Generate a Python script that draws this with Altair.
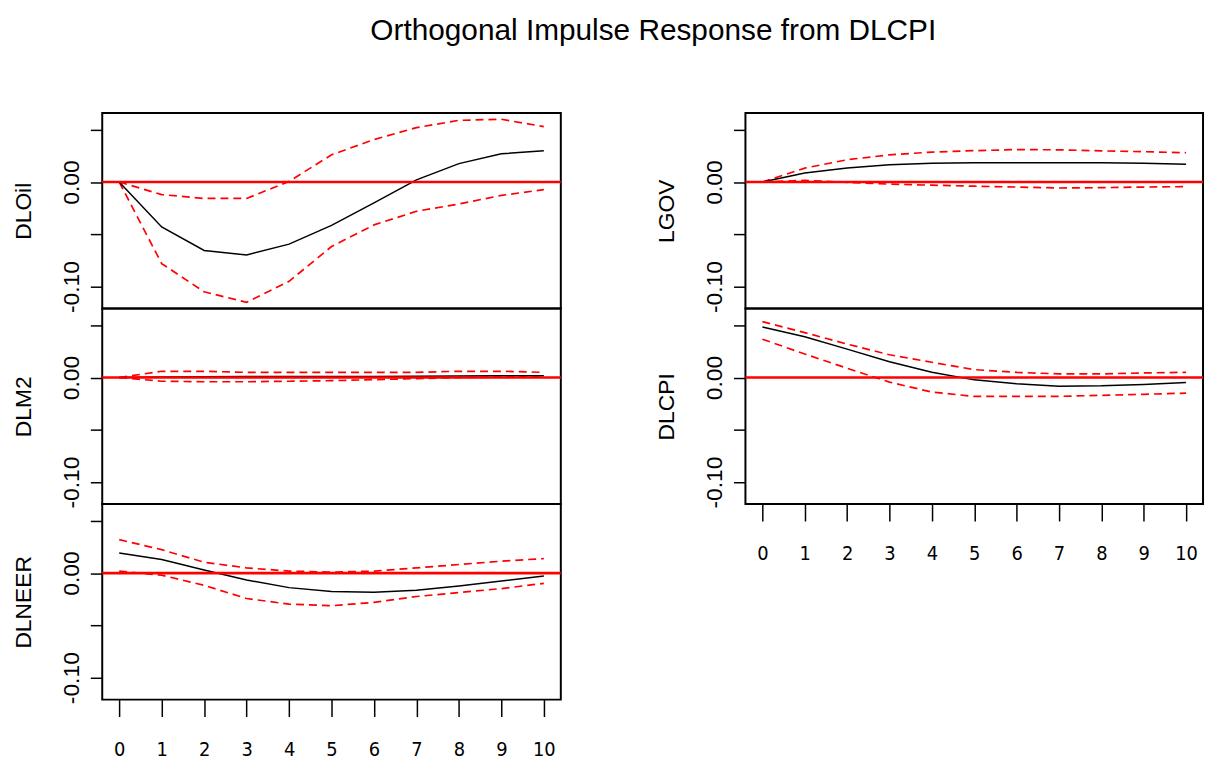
import altair as alt
import pandas as pd

steps = list(range(11))

dloil_irf = [0, -0.043, -0.0655, -0.0697, -0.0594, -0.0415, -0.020, 0.002, 0.0176, 0.027, 0.030]
dloil_lo = [0, -0.078, -0.105, -0.115, -0.095, -0.0617, -0.041, -0.028, -0.021, -0.0128, -0.0073]
dloil_hi = [0, -0.012, -0.0157, -0.0157, 0.0006, 0.026, 0.0406, 0.052, 0.059, 0.060, 0.053]

dlm2_irf = [0, 0.0005, 0.0008, 0.001, 0.001, 0.001, 0.001, 0.0012, 0.0015, 0.0018, 0.0018]
dlm2_lo = [0, -0.0035, -0.004, -0.004, -0.0035, -0.003, -0.002, -0.001, 0.0, 0.0005, 0.001]
dlm2_hi = [0, 0.006, 0.006, 0.005, 0.005, 0.005, 0.005, 0.005, 0.006, 0.006, 0.005]

dlneer_irf = [0.0192, 0.013, 0.003, -0.0066, -0.0139, -0.0177, -0.0183, -0.0164, -0.0123, -0.0076, -0.0028]
dlneer_lo = [0.0019, -0.002, -0.0117, -0.0243, -0.0297, -0.0312, -0.028, -0.0224, -0.0186, -0.0148, -0.0098]
dlneer_hi = [0.032, 0.0224, 0.0104, 0.005, 0.0019, 0.001, 0.0019, 0.005, 0.0082, 0.0114, 0.0139]

lgov_irf = [0, 0.0086, 0.0133, 0.0165, 0.018, 0.0184, 0.0184, 0.0184, 0.0184, 0.018, 0.017]
lgov_lo = [0, 0.0016, -0.0003, -0.002, -0.003, -0.004, -0.0048, -0.0057, -0.0054, -0.0048, -0.0044]
lgov_hi = [0, 0.0133, 0.0213, 0.026, 0.0286, 0.030, 0.031, 0.0308, 0.0298, 0.029, 0.028]

dlcpi_irf = [0.0484, 0.039, 0.0272, 0.0152, 0.005, -0.0022, -0.006, -0.0082, -0.0079, -0.0066, -0.0047]
dlcpi_lo = [0.0367, 0.0225, 0.0089, -0.0044, -0.0139, -0.018, -0.018, -0.018, -0.017, -0.016, -0.0149]
dlcpi_hi = [0.0535, 0.043, 0.032, 0.0218, 0.0146, 0.0076, 0.005, 0.0035, 0.0035, 0.0044, 0.005]

y_ticks = [-0.10, -0.05, 0.0, 0.05]
x_ticks = steps

Y_DOMAIN = [-0.121, 0.066]
X_DOMAIN = [-0.4, 10.4]
PANEL_H = 197
NARROW = "Liberation Sans Narrow, DejaVu Sans Condensed, Liberation Sans"


def panel(name, irf, lo, hi, width, show_x):
    df = pd.DataFrame({
        "step": steps * 3,
        "value": irf + lo + hi,
        "series": ["irf"] * 11 + ["lower"] * 11 + ["upper"] * 11,
    })
    zero = pd.DataFrame({"z": [0.0]})
    if show_x:
        xaxis = alt.Axis(values=x_ticks, title=None, grid=False, domain=False,
                         tickSize=17, tickWidth=1.5, tickColor="black",
                         labelFont=NARROW, labelFontSize=20,
                         labelColor="black", labelPadding=23, labelOverlap=False)
    else:
        xaxis = None
    x = alt.X("step:Q", scale=alt.Scale(domain=X_DOMAIN, nice=False, zero=False), axis=xaxis)
    yaxis = alt.Axis(values=y_ticks, grid=False, domain=False,
                     tickSize=12, tickWidth=1.5, tickColor="black",
                     labelExpr="abs(datum.value) < 1e-9 ? '0.00' : (abs(datum.value + 0.1) < 1e-9 ? '-0.10' : '')",
                     labelAngle=270, labelAlign="center", labelBaseline="alphabetic",
                     labelFont="Liberation Sans", labelFontSize=23, labelColor="black",
                     labelPadding=12, labelOverlap=False,
                     title=name, titleAngle=270, titleAlign="center", titleBaseline="alphabetic",
                     titleX=-72, titleY=PANEL_H / 2, titleFont="Liberation Sans",
                     titleFontSize=23, titleFontWeight="normal", titleColor="black")
    y = alt.Y("value:Q", scale=alt.Scale(domain=Y_DOMAIN, nice=False, zero=False), axis=yaxis)
    base = alt.Chart(df)
    bands = base.transform_filter(alt.datum.series != "irf").mark_line(
        color="#ff0000", strokeWidth=1.7, strokeDash=[8, 5]
    ).encode(x=x, y=y, detail="series:N")
    line = base.transform_filter(alt.datum.series == "irf").mark_line(
        color="black", strokeWidth=1.5
    ).encode(x=x, y=y)
    rule = alt.Chart(zero).mark_rule(color="#ff0000", strokeWidth=2.6).encode(
        y=alt.Y("z:Q", scale=alt.Scale(domain=Y_DOMAIN, nice=False, zero=False), axis=yaxis)
    )
    return alt.layer(bands, line, rule).properties(width=width, height=PANEL_H)


left = alt.vconcat(
    panel("DLOil", dloil_irf, dloil_lo, dloil_hi, 462, False),
    panel("DLM2", dlm2_irf, dlm2_lo, dlm2_hi, 462, False),
    panel("DLNEER", dlneer_irf, dlneer_lo, dlneer_hi, 462, True),
    spacing=0, bounds="flush",
)
right = alt.vconcat(
    panel("LGOV", lgov_irf, lgov_lo, lgov_hi, 461, False),
    panel("DLCPI", dlcpi_irf, dlcpi_lo, dlcpi_hi, 461, True),
    spacing=0, bounds="flush",
)

chart = alt.hconcat(left, right, spacing=92).properties(
    title=alt.TitleParams("Orthogonal Impulse Response from DLCPI",
                          font="Liberation Sans", fontSize=30, fontWeight="normal",
                          color="black", anchor="middle", frame="bounds", dx=45, offset=67),
    padding={"left": 12, "top": 13, "right": 0, "bottom": 0},
    background="white",
).configure_view(stroke="black", strokeWidth=2)

chart.save("out.html", embed_options={"renderer": "svg", "actions": False})
